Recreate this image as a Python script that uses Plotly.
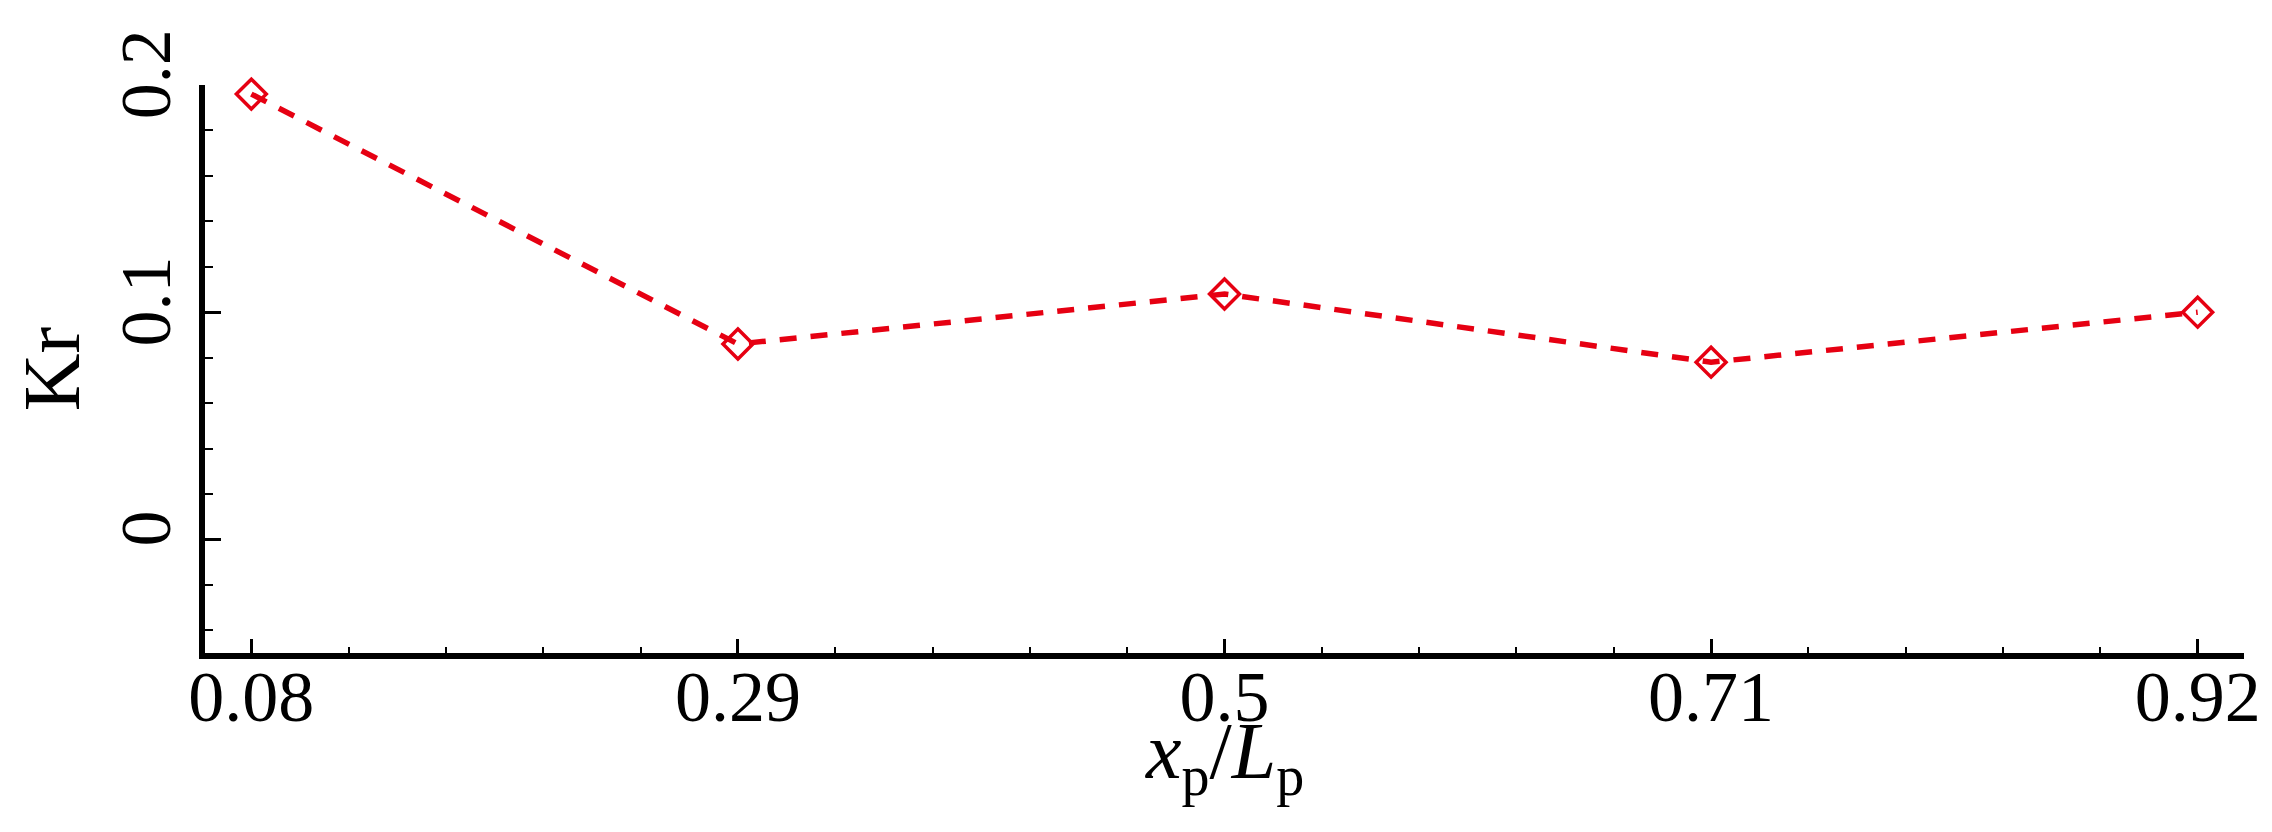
import plotly.graph_objects as go

# --- Data ---
xp_ratio = [0.08, 0.29, 0.5, 0.71, 0.92]
kr_values = [0.196, 0.086, 0.108, 0.078, 0.100]
x_tick_labels = ["0.08", "0.29", "0.5", "0.71", "0.92"]
y_tick_vals = [0, 0.1, 0.2]
y_tick_labels = ["0", "0.1", "0.2"]

RED = "#e60012"
FONT = "Liberation Serif, Times New Roman, serif"

fig = go.Figure()

fig.add_trace(go.Scatter(
    x=xp_ratio,
    y=kr_values,
    mode="lines+markers",
    line=dict(color=RED, width=5.5, dash="17px,14px"),
    marker=dict(symbol="diamond-open", size=23, color=RED, line=dict(width=3.5, color=RED)),
    cliponaxis=False,
    showlegend=False,
))

fig.update_layout(
    width=2272,
    height=832,
    margin=dict(l=197, r=36, t=77, b=187),
    plot_bgcolor="white",
    paper_bgcolor="white",
    font=dict(family=FONT, size=72, color="black"),
)

fig.update_xaxes(
    range=[0.06, 0.94],
    tickmode="array",
    tickvals=xp_ratio,
    ticktext=x_tick_labels,
    ticks="inside",
    ticklen=14,
    tickwidth=3,
    tickcolor="black",
    minor=dict(ticks="inside", ticklen=6, tickwidth=2, tickcolor="black", tick0=0.08, dtick=0.042),
    showline=True,
    linewidth=6,
    linecolor="black",
    showgrid=False,
    zeroline=False,
    tickfont=dict(family=FONT, size=72, color="black"),
    ticklabelstandoff=-24,
    automargin=False,
)

# x-axis title placed as annotation so it sits tight under the tick labels
fig.add_annotation(
    text="<i>x</i><sub>p</sub>/<i>L</i><sub>p</sub>",
    xref="paper", yref="paper", x=0.5, y=0,
    xanchor="center", yanchor="top", yshift=-52,
    showarrow=False,
    font=dict(family=FONT, size=80, color="black"),
)

fig.update_yaxes(
    range=[-0.05, 0.2],
    tickmode="array",
    tickvals=y_tick_vals,
    ticktext=y_tick_labels,
    tickangle=-90,
    ticks="inside",
    ticklen=16,
    tickwidth=3,
    tickcolor="black",
    minor=dict(ticks="inside", ticklen=8, tickwidth=2, tickcolor="black", tick0=0, dtick=0.02),
    showline=True,
    linewidth=6,
    linecolor="black",
    showgrid=False,
    zeroline=False,
    tickfont=dict(family=FONT, size=72, color="black"),
    title=dict(text="Kr", font=dict(family=FONT, size=80), standoff=40),
    automargin=False,
)

fig.write_html("out.html")
